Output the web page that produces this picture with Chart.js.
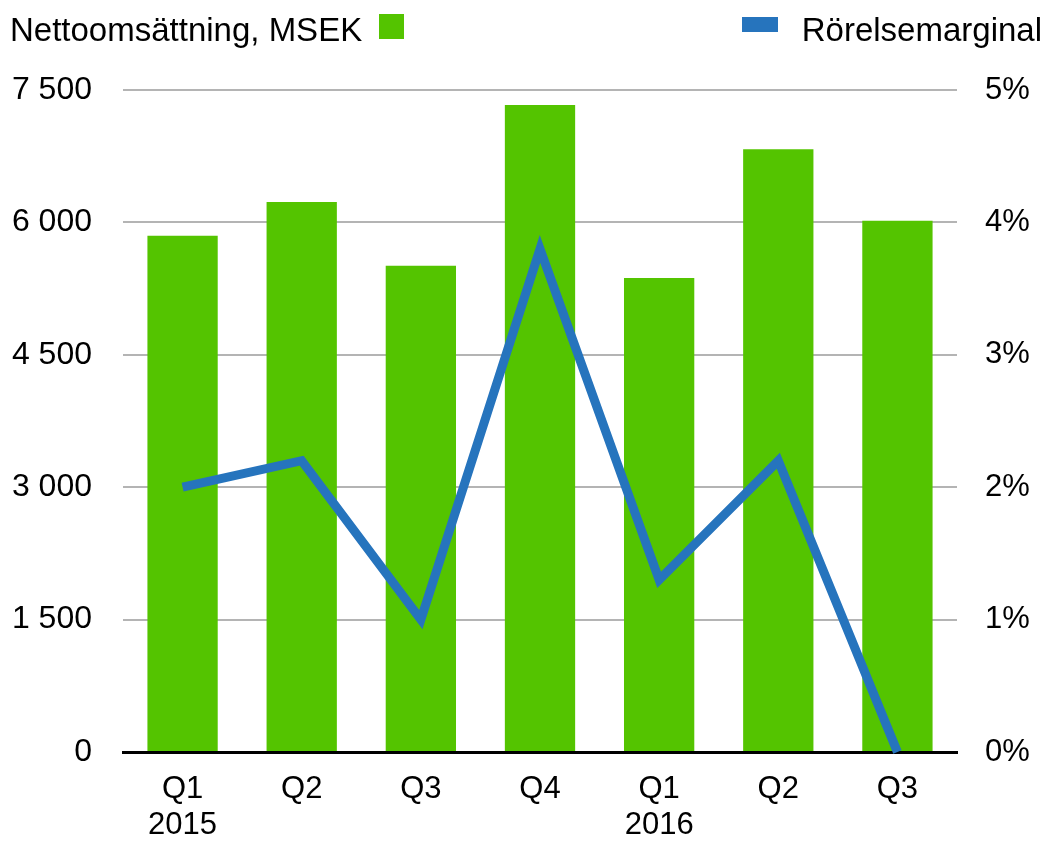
<!DOCTYPE html>
<html>
<head>
<meta charset="utf-8">
<script src="https://cdn.jsdelivr.net/npm/chart.js@4/dist/chart.umd.min.js"></script>
<style>
html,body{margin:0;padding:0;background:#fff;}
#wrap{width:1050px;height:843px;position:relative;}
</style>
</head>
<body>
<div id="wrap"><canvas id="c" width="1050" height="843"></canvas></div>
<script>
const quarters = [['Q1','2015'],['Q2',''],['Q3',''],['Q4',''],['Q1','2016'],['Q2',''],['Q3','']];
const netSales = [5850, 6230, 5510, 7330, 5370, 6830, 6020];
const opMargin = [2.0, 2.2, 1.0, 3.8, 1.3, 2.2, 0.0];
const leftTicks = [0, 1500, 3000, 4500, 6000, 7500];
const rightTicks = [0, 1, 2, 3, 4, 5];
const salesLabel = 'Nettoomsättning, MSEK';
const marginLabel = 'Rörelsemarginal';

const GREEN = '#54C400';
const BLUE = '#2674BD';
const FONT = "'Liberation Sans', Arial, sans-serif";

const legendPlugin = {
  id: 'customLegend',
  afterDraw(chart) {
    const ctx = chart.ctx;
    ctx.save();
    ctx.font = '33px ' + FONT;
    ctx.fillStyle = '#000';
    ctx.textBaseline = 'alphabetic';
    ctx.textAlign = 'left';
    ctx.fillText(salesLabel, 10, 41);
    ctx.fillStyle = GREEN;
    ctx.fillRect(379, 14, 25, 25);
    ctx.textAlign = 'right';
    ctx.fillStyle = '#000';
    ctx.fillText(marginLabel, 1042, 41);
    ctx.fillStyle = BLUE;
    ctx.fillRect(742, 17, 36, 15);
    ctx.restore();
  }
};

const fmt = v => String(v).replace(/\B(?=(\d{3})+(?!\d))/g, ' ');

new Chart(document.getElementById('c'), {
  data: {
    labels: quarters,
    datasets: [
      {
        type: 'line', label: marginLabel, data: opMargin, yAxisID: 'y2',
        borderColor: BLUE, borderWidth: 9, pointRadius: 0, tension: 0,
        order: 1, clip: false, borderCapStyle: 'butt', borderJoinStyle: 'miter'
      },
      {
        type: 'bar', label: salesLabel, data: netSales, yAxisID: 'y',
        backgroundColor: GREEN, barPercentage: 0.59, categoryPercentage: 1.0,
        order: 2
      }
    ]
  },
  options: {
    responsive: false,
    animation: false,
    devicePixelRatio: 1,
    layout: { padding: { top: 90, left: 0, right: 0, bottom: 0 } },
    plugins: { legend: { display: false }, tooltip: { enabled: false } },
    scales: {
      x: {
        grid: { display: false, drawTicks: false },
        border: { display: true, color: '#000', width: 3 },
        ticks: { color: '#000', font: { family: FONT, size: 31, lineHeight: 1.17 }, padding: 19, maxRotation: 0, autoSkip: false },
        afterFit(s) { s.height = 91; }
      },
      y: {
        position: 'left', min: 0, max: 7500,
        afterBuildTicks(s) { s.ticks = leftTicks.map(v => ({ value: v })); },
        grid: { color: '#b4b4b4', lineWidth: 2, drawTicks: false },
        border: { display: false },
        ticks: { color: '#000', font: { family: FONT, size: 32 }, padding: 31, callback: v => fmt(v) },
        afterFit(s) { s.width = 123; }
      },
      y2: {
        position: 'right', min: 0, max: 5,
        afterBuildTicks(s) { s.ticks = rightTicks.map(v => ({ value: v })); },
        grid: { display: false, drawTicks: false },
        border: { display: false },
        ticks: { color: '#000', font: { family: FONT, size: 31 }, padding: 28, callback: v => v + '%' },
        afterFit(s) { s.width = 93; }
      }
    }
  },
  plugins: [legendPlugin]
});
</script>
</body>
</html>
